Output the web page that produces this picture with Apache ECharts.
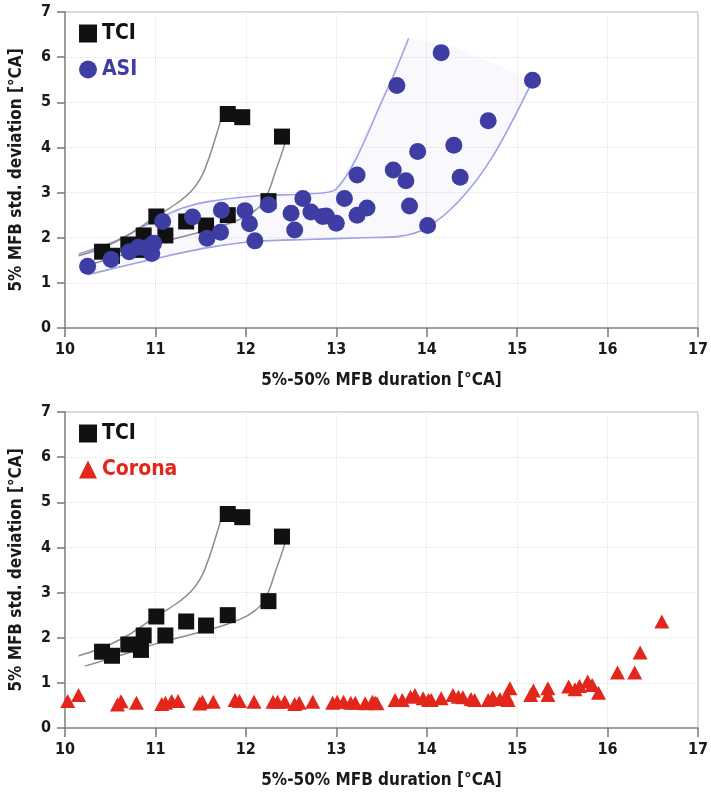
<!DOCTYPE html>
<html>
<head>
<meta charset="utf-8">
<script src="https://cdn.jsdelivr.net/npm/echarts@6/dist/echarts.min.js"></script>
<style>
  html, body { margin: 0; padding: 0; background: #fff; }
  #chart { width: 711px; height: 793px; }
</style>
</head>
<body>
<div id="chart"></div>
<script>
// TCI measurements: [5%-50% MFB duration, 5% MFB std. deviation]
const tciPoints = [
  [10.41, 1.69], [10.52, 1.60], [10.70, 1.85], [10.84, 1.73], [10.87, 2.05],
  [11.01, 2.47], [11.11, 2.05], [11.34, 2.36], [11.56, 2.27], [11.80, 2.50],
  [11.80, 4.74], [11.96, 4.67], [12.25, 2.81], [12.40, 4.24]
];

// ASI measurements
const asiPoints = [
  [10.25, 1.37], [10.51, 1.52], [10.71, 1.69], [10.81, 1.79], [10.89, 1.77],
  [10.96, 1.65], [10.98, 1.88], [11.08, 2.36], [11.41, 2.46], [11.57, 1.99],
  [11.73, 2.61], [11.72, 2.12], [11.99, 2.60], [12.04, 2.31], [12.10, 1.93],
  [12.25, 2.73], [12.50, 2.54], [12.54, 2.17], [12.63, 2.87], [12.72, 2.57],
  [12.85, 2.47], [12.89, 2.48], [13.00, 2.32], [13.09, 2.87], [13.23, 3.39],
  [13.23, 2.50], [13.34, 2.66], [13.63, 3.50], [13.67, 5.37], [13.77, 3.26],
  [13.81, 2.70], [13.90, 3.91], [14.01, 2.27], [14.16, 6.10], [14.30, 4.05],
  [14.37, 3.34], [14.68, 4.59], [15.17, 5.49]
];

// Corona measurements
const coronaPoints = [
  [10.03, 0.60], [10.15, 0.73], [10.58, 0.52], [10.62, 0.59], [10.79, 0.56],
  [11.07, 0.53], [11.11, 0.56], [11.18, 0.60], [11.25, 0.60], [11.49, 0.54],
  [11.52, 0.58], [11.64, 0.58], [11.88, 0.62], [11.93, 0.60], [12.09, 0.58],
  [12.30, 0.58], [12.35, 0.58], [12.43, 0.58], [12.54, 0.53], [12.59, 0.56],
  [12.74, 0.58], [12.96, 0.56], [13.01, 0.58], [13.08, 0.58], [13.16, 0.56],
  [13.21, 0.56], [13.32, 0.55], [13.40, 0.58], [13.43, 0.56], [13.45, 0.55],
  [13.65, 0.62], [13.73, 0.62], [13.82, 0.69], [13.87, 0.73], [13.96, 0.66],
  [14.02, 0.62], [14.05, 0.62], [14.16, 0.66], [14.29, 0.73], [14.35, 0.69],
  [14.40, 0.68], [14.49, 0.64], [14.53, 0.62], [14.68, 0.62], [14.73, 0.68],
  [14.81, 0.64], [14.88, 0.71], [14.90, 0.62], [14.92, 0.88], [15.15, 0.73],
  [15.18, 0.83], [15.34, 0.73], [15.34, 0.88], [15.57, 0.92], [15.64, 0.86],
  [15.69, 0.93], [15.78, 1.03], [15.83, 0.95], [15.90, 0.78], [16.11, 1.23],
  [16.30, 1.23], [16.36, 1.67], [16.60, 2.36]
];

// TCI trend curves (upper and lower branch)
const tciUpperCurve = [
  [10.15, 1.60], [10.60, 1.95], [11.03, 2.50], [11.25, 2.78], [11.40, 3.04],
  [11.50, 3.32], [11.58, 3.70], [11.65, 4.12], [11.74, 4.72]
];
const tciLowerCurve = [
  [10.22, 1.37], [10.60, 1.60], [11.03, 1.88], [11.58, 2.17], [11.90, 2.38],
  [12.10, 2.60], [12.22, 2.90], [12.32, 3.42], [12.46, 4.25]
];

// ASI scatter band: upper edge, far edge (fill only), lower edge
const asiBandUpper = [
  [10.15, 1.64], [10.55, 1.92], [11.03, 2.42], [11.30, 2.66], [11.58, 2.80],
  [12.13, 2.93], [12.68, 2.97], [13.00, 3.08], [13.56, 5.27], [13.80, 6.42]
];
const asiBandTop = [
  [13.80, 6.42], [14.30, 6.22], [15.17, 5.49]
];
const asiBandLower = [
  [10.25, 1.18], [10.60, 1.35], [11.03, 1.55], [11.58, 1.78], [12.13, 1.92],
  [12.68, 1.96], [13.30, 2.00], [13.70, 2.03], [14.00, 2.22], [14.37, 2.84],
  [14.73, 3.80], [15.17, 5.47]
];

// Axis ticks
const xTicks = [10, 11, 12, 13, 14, 15, 16, 17];
const yTicks = [0, 1, 2, 3, 4, 5, 6, 7];

const FONT = "'Liberation Sans Narrow', 'DejaVu Sans Condensed', 'Arial Narrow', sans-serif";
const BLACK = '#111111';
const BLUE = '#3d3da3';
const RED = '#e3261b';
const BAND = '#a0a0e4';

const chart = echarts.init(document.getElementById('chart'), null, { renderer: 'canvas' });

function xAxisFor(gridIndex) {
  return {
    gridIndex: gridIndex,
    type: 'value',
    min: xTicks[0],
    max: xTicks[xTicks.length - 1],
    interval: 1,
    name: '5%-50% MFB duration [°CA]',
    nameLocation: 'middle',
    nameGap: 44,
    nameTextStyle: { fontFamily: FONT, fontWeight: 'bold', fontSize: 17, color: '#1a1a1a' },
    axisLine: { show: true, onZero: false, lineStyle: { color: '#8a8a8a', width: 1.5 } },
    axisTick: { show: true, length: 9, lineStyle: { color: '#777', width: 1.5 } },
    axisLabel: { fontFamily: FONT, fontWeight: 'bold', fontSize: 16, color: '#1a1a1a', margin: 14 },
    splitLine: { show: true, lineStyle: { color: '#e4e4e4', type: 'dotted', width: 1 } }
  };
}

function yAxisFor(gridIndex) {
  return {
    gridIndex: gridIndex,
    type: 'value',
    min: yTicks[0],
    max: yTicks[yTicks.length - 1],
    interval: 1,
    name: '5% MFB std. deviation [°CA]',
    nameLocation: 'middle',
    nameGap: 40,
    nameTextStyle: { fontFamily: FONT, fontWeight: 'bold', fontSize: 17, color: '#1a1a1a' },
    axisLine: { show: true, onZero: false, lineStyle: { color: '#8a8a8a', width: 1.5 } },
    axisTick: { show: true, length: 8, lineStyle: { color: '#777', width: 1.5 } },
    axisLabel: { fontFamily: FONT, fontWeight: 'bold', fontSize: 16, color: '#1a1a1a', margin: 14 },
    splitLine: { show: true, lineStyle: { color: '#e4e4e4', type: 'dotted', width: 1 } }
  };
}

// Closed outline of the ASI band, built from its three edges
const asiBandOutline = asiBandUpper
  .concat(asiBandTop.slice(1))
  .concat(asiBandLower.slice().reverse());

const legendText = { fontFamily: FONT, fontWeight: 'bold', fontSize: 21 };

function curveSeries(name, data, axis) {
  return {
    name: name, type: 'line', xAxisIndex: axis, yAxisIndex: axis,
    data: data, smooth: 0.5, symbol: 'none', silent: true, z: 2,
    lineStyle: { color: '#8c8c8c', width: 1.5 }
  };
}

const option = {
  backgroundColor: '#ffffff',
  animation: false,
  grid: [
    { left: 65, right: 8, top: 12, height: 316, show: true, borderColor: '#b0b0b0', borderWidth: 1, backgroundColor: 'transparent' },
    { left: 65, right: 8, top: 412, height: 316, show: true, borderColor: '#b0b0b0', borderWidth: 1, backgroundColor: 'transparent' }
  ],
  xAxis: [xAxisFor(0), xAxisFor(1)],
  yAxis: [yAxisFor(0), yAxisFor(1)],
  legend: [
    {
      orient: 'vertical', left: 74, top: 18, itemGap: 15,
      itemWidth: 18, itemHeight: 18,
      textStyle: legendText,
      selectedMode: false,
      data: [
        { name: 'TCI', icon: 'rect', textStyle: { color: BLACK } },
        { name: 'ASI', icon: 'circle', textStyle: { color: BLUE } }
      ]
    },
    {
      orient: 'vertical', left: 74, top: 418, itemGap: 15,
      itemWidth: 18, itemHeight: 18,
      textStyle: legendText,
      selectedMode: false,
      data: [
        { name: 'TCI', icon: 'rect', textStyle: { color: BLACK } },
        { name: 'Corona', icon: 'triangle', textStyle: { color: RED } }
      ]
    }
  ],
  series: [
    // ASI band fill
    {
      name: 'ASI band',
      type: 'custom',
      xAxisIndex: 0, yAxisIndex: 0,
      silent: true,
      z: 1,
      data: [0],
      renderItem: function (params, api) {
        return {
          type: 'polygon',
          shape: { points: asiBandOutline.map(function (p) { return api.coord(p); }), smooth: 0 },
          style: { fill: 'rgba(120,120,210,0.055)', stroke: null }
        };
      }
    },
    {
      name: 'ASI band upper', type: 'line', xAxisIndex: 0, yAxisIndex: 0,
      data: asiBandUpper, smooth: 0.3, symbol: 'none', silent: true, z: 2,
      lineStyle: { color: BAND, width: 1.6 }
    },
    {
      name: 'ASI band lower', type: 'line', xAxisIndex: 0, yAxisIndex: 0,
      data: asiBandLower, smooth: 0.3, symbol: 'none', silent: true, z: 2,
      lineStyle: { color: BAND, width: 1.6 }
    },
    curveSeries('TCI upper', tciUpperCurve, 0),
    curveSeries('TCI lower', tciLowerCurve, 0),
    {
      name: 'TCI', type: 'scatter', xAxisIndex: 0, yAxisIndex: 0,
      data: tciPoints, symbol: 'rect', symbolSize: 16, z: 3,
      itemStyle: { color: BLACK, opacity: 1 }
    },
    {
      name: 'ASI', type: 'scatter', xAxisIndex: 0, yAxisIndex: 0,
      data: asiPoints, symbol: 'circle', symbolSize: 17, z: 4,
      itemStyle: { color: BLUE, opacity: 1 }
    },
    // Bottom panel
    curveSeries('TCI upper 2', tciUpperCurve, 1),
    curveSeries('TCI lower 2', tciLowerCurve, 1),
    {
      name: 'TCI', type: 'scatter', xAxisIndex: 1, yAxisIndex: 1,
      data: tciPoints, symbol: 'rect', symbolSize: 16, z: 3,
      itemStyle: { color: BLACK, opacity: 1 }
    },
    {
      name: 'Corona', type: 'scatter', xAxisIndex: 1, yAxisIndex: 1,
      data: coronaPoints, symbol: 'triangle', symbolSize: [15, 14], z: 4,
      itemStyle: { color: RED, opacity: 1 }
    }
  ]
};

chart.setOption(option);
</script>
</body>
</html>
